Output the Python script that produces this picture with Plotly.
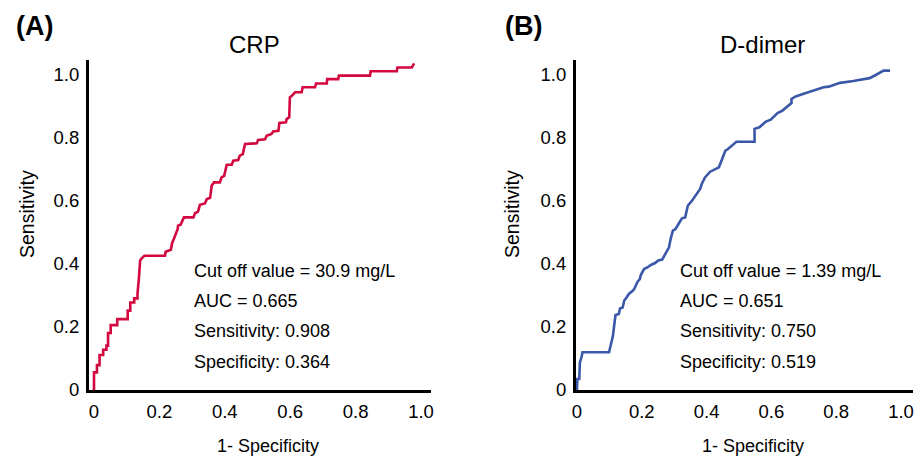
import plotly.graph_objects as go

# ---------------- data ----------------
crp_fpr = [0, 0, 0.009, 0.009, 0.017, 0.017, 0.028, 0.028, 0.038, 0.038, 0.043, 0.043,
           0.051, 0.051, 0.071, 0.071, 0.103, 0.103, 0.111, 0.111, 0.123, 0.123, 0.133,
           0.133, 0.138, 0.141, 0.146, 0.154, 0.217, 0.219, 0.235, 0.239, 0.245, 0.256,
           0.257, 0.265, 0.275, 0.304, 0.309, 0.318, 0.324, 0.339, 0.345, 0.355, 0.360,
           0.367, 0.385, 0.390, 0.398, 0.406, 0.421, 0.426, 0.441, 0.446, 0.455, 0.462,
           0.498, 0.502, 0.523, 0.528, 0.543, 0.548, 0.564, 0.567, 0.587, 0.589, 0.597,
           0.599, 0.605, 0.615, 0.635, 0.638, 0.676, 0.679, 0.712, 0.713, 0.747, 0.749,
           0.844, 0.846, 0.926, 0.928, 0.972, 0.979]
crp_tpr = [0, 0.056, 0.056, 0.079, 0.079, 0.111, 0.111, 0.128, 0.128, 0.141, 0.141, 0.181,
           0.181, 0.206, 0.206, 0.225, 0.225, 0.252, 0.252, 0.278, 0.278, 0.291, 0.291,
           0.305, 0.363, 0.411, 0.418, 0.426, 0.426, 0.439, 0.445, 0.467, 0.482, 0.511,
           0.522, 0.525, 0.548, 0.548, 0.561, 0.566, 0.588, 0.592, 0.606, 0.610, 0.649,
           0.659, 0.659, 0.675, 0.680, 0.715, 0.715, 0.728, 0.730, 0.744, 0.749, 0.781,
           0.783, 0.794, 0.796, 0.807, 0.813, 0.821, 0.823, 0.848, 0.850, 0.860, 0.866,
           0.929, 0.934, 0.945, 0.945, 0.961, 0.961, 0.973, 0.973, 0.987, 0.987, 0.998,
           0.998, 1.012, 1.012, 1.024, 1.024, 1.037]

dd_fpr = [0, 0.001, 0.007, 0.009, 0.014, 0.017, 0.099, 0.103, 0.107, 0.111, 0.116, 0.119,
          0.129, 0.133, 0.141, 0.146, 0.153, 0.160, 0.172, 0.177, 0.187, 0.194, 0.197,
          0.207, 0.217, 0.228, 0.241, 0.251, 0.263, 0.273, 0.284, 0.289, 0.296, 0.304,
          0.314, 0.324, 0.334, 0.342, 0.355, 0.370, 0.380, 0.385, 0.395, 0.411, 0.426,
          0.438, 0.446, 0.458, 0.466, 0.492, 0.548, 0.548, 0.563, 0.583, 0.598, 0.619,
          0.634, 0.649, 0.662, 0.662, 0.675, 0.695, 0.726, 0.761, 0.777, 0.812, 0.853,
          0.903, 0.922, 0.946, 0.966]
dd_tpr = [0, 0.035, 0.035, 0.088, 0.104, 0.120, 0.120, 0.141, 0.157, 0.172, 0.215, 0.238,
          0.241, 0.259, 0.262, 0.284, 0.294, 0.305, 0.315, 0.321, 0.344, 0.352, 0.365,
          0.384, 0.389, 0.397, 0.403, 0.411, 0.414, 0.432, 0.453, 0.479, 0.506, 0.511,
          0.527, 0.545, 0.548, 0.585, 0.601, 0.622, 0.638, 0.654, 0.675, 0.693, 0.702,
          0.707, 0.728, 0.760, 0.765, 0.788, 0.788, 0.829, 0.834, 0.852, 0.858, 0.879,
          0.887, 0.901, 0.911, 0.924, 0.932, 0.939, 0.950, 0.961, 0.963, 0.975, 0.981,
          0.990, 1.000, 1.014, 1.014]

tick_vals = [0, 0.2, 0.4, 0.6, 0.8, 1.0]
tick_text = ["0", "0.2", "0.4", "0.6", "0.8", "1.0"]

panel_labels = ["(A)", "(B)"]
panel_titles = ["CRP", "D-dimer"]
stats_crp = ["Cut off value = 30.9 mg/L", "AUC = 0.665", "Sensitivity: 0.908", "Specificity: 0.364"]
stats_dd = ["Cut off value = 1.39 mg/L", "AUC = 0.651", "Sensitivity: 0.750", "Specificity: 0.519"]
stats_y = [0.378, 0.283, 0.187, 0.089]

# ---------------- figure ----------------
OFF = 8                          # page body margin in the browser
W, H = 922 - 2 * OFF, 459 - OFF  # visible drawing area from the offset on
FONT = "Liberation Sans, Arial, Helvetica, sans-serif"
CRP_COLOR = "#D2083F"
DD_COLOR = "#3B57A8"

def px(x):
    return (x - OFF) / W

def py(y):
    return 1 - (y - OFF) / H

fig = go.Figure()
fig.add_trace(go.Scatter(x=crp_fpr, y=crp_tpr, mode="lines",
                         line=dict(color=CRP_COLOR, width=2.6), xaxis="x", yaxis="y",
                         showlegend=False, hoverinfo="skip"))
fig.add_trace(go.Scatter(x=dd_fpr, y=dd_tpr, mode="lines",
                         line=dict(color=DD_COLOR, width=2.6), xaxis="x2", yaxis="y2",
                         showlegend=False, hoverinfo="skip"))

axis_common = dict(showline=True, linecolor="black", linewidth=3, showgrid=False,
                   zeroline=False, ticks="", tickvals=tick_vals, ticktext=tick_text,
                   tickfont=dict(family=FONT, size=18.5, color="black"),
                   automargin=False, fixedrange=True)

ydom = [py(390), py(60)]
fig.update_layout(
    width=W, height=H,
    margin=dict(l=0, r=0, t=0, b=0),
    paper_bgcolor="white", plot_bgcolor="white",
    font=dict(family=FONT, color="black"),
    xaxis=dict(domain=[px(89), px(431)], range=[-0.0153, 1.0306], anchor="y",
               ticklabelstandoff=3, **axis_common),
    yaxis=dict(domain=ydom, range=[0, 1.0476], anchor="x",
               ticklabelstandoff=3, **axis_common),
    xaxis2=dict(domain=[px(576), px(913)], range=[-0.003, 1.037], anchor="y2",
                ticklabelstandoff=3, **axis_common),
    yaxis2=dict(domain=ydom, range=[0, 1.0476], anchor="x2",
                ticklabelstandoff=3, **axis_common),
)

ann = []
# panel labels and titles
for lab, cx in zip(panel_labels, [34, 523]):
    ann.append(dict(text="<b>" + lab + "</b>", x=px(cx), y=py(26), xref="paper", yref="paper",
                    xanchor="center", yanchor="middle", showarrow=False,
                    font=dict(family=FONT, size=27, color="black")))
for t, cx in zip(panel_titles, [254, 762]):
    ann.append(dict(text=t, x=px(cx), y=py(44.5), xref="paper", yref="paper",
                    xanchor="center", yanchor="middle", showarrow=False,
                    font=dict(family=FONT, size=24, color="black")))
# axis titles
for cx in [27, 512]:
    ann.append(dict(text="Sensitivity", x=px(cx), y=py(214), xref="paper", yref="paper",
                    xanchor="center", yanchor="middle", textangle=-90, showarrow=False,
                    font=dict(family=FONT, size=19.5, color="black")))
for cx in [267.5, 753]:
    ann.append(dict(text="1- Specificity", x=px(cx), y=py(446), xref="paper", yref="paper",
                    xanchor="center", yanchor="middle", showarrow=False,
                    font=dict(family=FONT, size=18, color="black")))
# statistics text
for lines, xr, yr, x0 in [(stats_crp, "x", "y", 0.300), (stats_dd, "x2", "y2", 0.312)]:
    for line, yv in zip(lines, stats_y):
        ann.append(dict(text=line, x=x0, y=yv, xref=xr, yref=yr,
                        xanchor="left", yanchor="middle", showarrow=False,
                        font=dict(family=FONT, size=18, color="black")))

fig.update_layout(annotations=ann)
fig.write_html("out.html")
